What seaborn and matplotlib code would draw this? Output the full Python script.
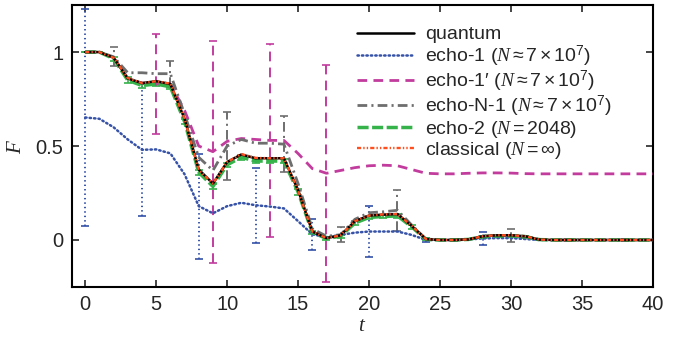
import numpy as np
import pandas as pd
import matplotlib
matplotlib.use("Agg")
import matplotlib.pyplot as plt
from matplotlib.lines import Line2D
import seaborn as sns

sns.set_theme(style="ticks")
plt.rcParams['font.family'] = ['Liberation Sans', 'DejaVu Sans']
plt.rcParams['mathtext.fontset'] = 'custom'
plt.rcParams['mathtext.rm'] = 'Liberation Sans'
plt.rcParams['mathtext.it'] = 'Liberation Serif:italic'
plt.rcParams['mathtext.bf'] = 'Liberation Sans:bold'
plt.rcParams['lines.scale_dashes'] = False

# ----- data ----- #
t = list(range(41))

quantum = [1.0, 1.0, 0.97, 0.86, 0.835, 0.845, 0.83, 0.645, 0.375, 0.30,
           0.415, 0.455, 0.435, 0.435, 0.435, 0.265, 0.045, 0.01, 0.025, 0.10,
           0.13, 0.135, 0.138, 0.075, 0.005, 0.0, 0.0, 0.003, 0.02, 0.025,
           0.025, 0.02, 0.002, 0.0, 0.0, 0.0, 0.0, 0.0, 0.0, 0.0, 0.0]

classical = [1.0, 1.0, 0.97, 0.862, 0.835, 0.845, 0.832, 0.645, 0.372, 0.30,
             0.415, 0.457, 0.437, 0.435, 0.435, 0.263, 0.045, 0.01, 0.025, 0.10,
             0.13, 0.136, 0.138, 0.075, 0.005, 0.0, 0.0, 0.003, 0.02, 0.025,
             0.025, 0.02, 0.002, 0.0, 0.0, 0.0, 0.0, 0.0, 0.0, 0.0, 0.0]

echo2 = [1.0, 1.0, 0.965, 0.85, 0.822, 0.83, 0.815, 0.63, 0.36, 0.285,
         0.40, 0.44, 0.42, 0.42, 0.42, 0.255, 0.04, 0.008, 0.02, 0.09,
         0.12, 0.125, 0.128, 0.07, 0.003, 0.0, 0.0, 0.003, 0.018, 0.022,
         0.022, 0.018, 0.002, 0.0, 0.0, 0.0, 0.0, 0.0, 0.0, 0.0, 0.0]
echo2_err = [0.0, 0.0, 0.01, 0.015, 0.012, 0.012, 0.012, 0.015, 0.015, 0.012,
             0.012, 0.012, 0.012, 0.012, 0.012, 0.015, 0.01, 0.008, 0.008, 0.01,
             0.01, 0.01, 0.01, 0.01, 0.005, 0.0, 0.0, 0.0, 0.005, 0.005,
             0.005, 0.005, 0.0, 0.0, 0.0, 0.0, 0.0, 0.0, 0.0, 0.0, 0.0]

echoN1 = [1.0, 1.0, 0.975, 0.89, 0.89, 0.885, 0.885, 0.67, 0.44, 0.37,
          0.50, 0.535, 0.515, 0.515, 0.51, 0.30, 0.06, 0.02, 0.028, 0.11,
          0.145, 0.15, 0.158, 0.08, 0.005, 0.0, 0.0, 0.003, 0.02, 0.024,
          0.024, 0.015, 0.002, 0.0, 0.0, 0.0, 0.0, 0.0, 0.0, 0.0, 0.0]
echoN1_err_t = [2, 6, 10, 14, 18, 22, 26, 30, 34, 38]
echoN1_err = [0.05, 0.07, 0.18, 0.15, 0.04, 0.11, 0.004, 0.036, 0.003, 0.003]

echo1p = [1.0, 1.0, 0.97, 0.86, 0.835, 0.83, 0.83, 0.69, 0.50, 0.47,
          0.525, 0.54, 0.535, 0.53, 0.53, 0.46, 0.38, 0.355, 0.37, 0.385,
          0.395, 0.398, 0.395, 0.375, 0.355, 0.352, 0.352, 0.355, 0.357, 0.357,
          0.356, 0.353, 0.352, 0.352, 0.352, 0.352, 0.352, 0.352, 0.352, 0.352, 0.352]
echo1p_err_t = [5, 9, 13, 17]
echo1p_err = [0.264, 0.59, 0.515, 0.576]

echo1 = [0.652, 0.645, 0.60, 0.535, 0.48, 0.482, 0.461, 0.35, 0.18, 0.142,
         0.18, 0.198, 0.185, 0.178, 0.168, 0.10, 0.03, 0.015, 0.027, 0.039,
         0.045, 0.045, 0.045, 0.027, 0.0, 0.0, 0.0, 0.003, 0.008, 0.01,
         0.01, 0.005, 0.0, 0.0, 0.0, 0.0, 0.0, 0.0, 0.0, 0.0, 0.0]
echo1_err_t = [0, 4, 8, 12, 16, 20, 24, 28]
echo1_err = [0.575, 0.35, 0.28, 0.2, 0.084, 0.135, 0.012, 0.037]

labels = ["quantum",
          r"echo-1 ($N\approx7\times10^7$)",
          "echo-1\u2032 " + r"($N\approx7\times10^7$)",
          r"echo-N-1 ($N\approx7\times10^7$)",
          r"echo-2 ($N=2048$)",
          r"classical ($N=\infty$)"]

c_q, c_e1, c_e1p, c_n1, c_e2, c_cl = "black", "#3552a8", "#c23c9e", "#6e6e6e", "#35b24a", "#ff4f1e"

fig = plt.figure(figsize=(6.92, 3.4), dpi=100)
ax = fig.add_axes([0.1036, 0.156, 0.84, 0.829])


def err(ax, tt, series, e, color, ls, lw):
    y = [series[t.index(k)] for k in tt]
    eb = ax.errorbar(tt, y, yerr=e, fmt='none', ecolor=color, elinewidth=lw,
                     capsize=3, capthick=1.2, zorder=2)
    eb[2][0].set_linestyle(ls)


ls_e1 = (0, (1.0, 2.2))
ls_e1p = (0, (7, 4.5))
ls_n1 = (0, (7, 3, 1.5, 3))
ls_e2 = (0, (8, 2.5))
ls_cl = (0, (3, 1.5, 1, 1.5, 1, 1.5))

err(ax, echo1p_err_t, echo1p, echo1p_err, c_e1p, ls_e1p, 1.4)
err(ax, echo1_err_t, echo1, echo1_err, c_e1, ls_e1, 1.4)
err(ax, echoN1_err_t, echoN1, echoN1_err, c_n1, ls_n1, 1.4)
err(ax, t, echo2, echo2_err, c_e2, '-', 1.2)

sns.lineplot(x=t, y=echo1p, ax=ax, color=c_e1p, linewidth=2.0, linestyle=ls_e1p, zorder=3)
sns.lineplot(x=t, y=echo1, ax=ax, color=c_e1, linewidth=1.8, linestyle=ls_e1,
             dash_capstyle='round', zorder=3)
sns.lineplot(x=t, y=echoN1, ax=ax, color=c_n1, linewidth=2.0, linestyle=ls_n1, zorder=3)
sns.lineplot(x=t, y=echo2, ax=ax, color=c_e2, linewidth=2.5, linestyle=ls_e2, zorder=4)
sns.lineplot(x=t, y=quantum, ax=ax, color=c_q, linewidth=1.8, zorder=5)
sns.lineplot(x=t, y=classical, ax=ax, color=c_cl, linewidth=1.7, linestyle=ls_cl, zorder=6)

# legend handles
handles = [Line2D([], [], color=c_q, lw=1.8),
           Line2D([], [], color=c_e1, lw=1.8, linestyle=ls_e1, dash_capstyle='round'),
           Line2D([], [], color=c_e1p, lw=2.0, linestyle=ls_e1p),
           Line2D([], [], color=c_n1, lw=2.0, linestyle=ls_n1),
           Line2D([], [], color=c_e2, lw=2.5, linestyle=ls_e2),
           Line2D([], [], color=c_cl, lw=1.7, linestyle=ls_cl)]
ax.legend(handles, labels, loc='upper left', bbox_to_anchor=(347 / 692, 1 - 16 / 340),
          bbox_transform=fig.transFigure, frameon=False, borderpad=0,
          fontsize=14, handlelength=2.95, handletextpad=0.55, labelspacing=0.0)

ax.set_xlim(-0.95, 40)
ax.set_ylim(-0.25, 1.25)
ax.set_xticks([0, 5, 10, 15, 20, 25, 30, 35, 40])
ax.set_yticks([0, 0.5, 1])
ax.set_yticklabels(["0", "0.5", "1"])
ax.tick_params(direction='in', top=True, right=True, labelsize=14.5, length=5, width=1.2, pad=6)
for s in ax.spines.values():
    s.set_linewidth(1.5)
    s.set_color('black')
ax.set_xlabel(r"$t$", fontsize=15, labelpad=1)
ax.set_ylabel(r"$F$", fontsize=15)
ax.yaxis.set_label_coords(-0.08, 0.5)

plt.savefig("out.png", dpi=100)
